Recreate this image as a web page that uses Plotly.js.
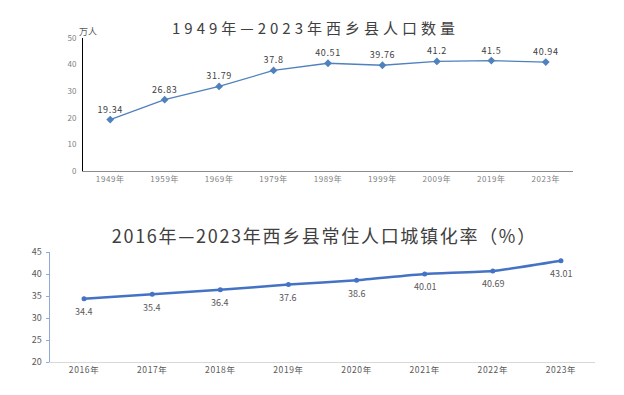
<!DOCTYPE html>
<html>
<head>
<meta charset="utf-8">
<script src="https://cdn.plot.ly/plotly-3.0.1.min.js"></script>
<style>
body{margin:0;padding:0;background:#fff;}
#chart{width:624px;height:395px;}
.xtick text, .x2tick text, .textpoint text{letter-spacing:0.6px;}
</style>
</head>
<body>
<div id="chart"></div>
<script>
// Chart 1: population (万人)
const popYears = ['1949年','1959年','1969年','1979年','1989年','1999年','2009年','2019年','2023年'];
const popValues = [19.34, 26.83, 31.79, 37.8, 40.51, 39.76, 41.2, 41.5, 40.94];
const popLabels = ['19.34','26.83','31.79','37.8','40.51','39.76','41.2','41.5','40.94'];

// Chart 2: urbanization rate (%)
const urbYears = ['2016年','2017年','2018年','2019年','2020年','2021年','2022年','2023年'];
const urbValues = [34.4, 35.4, 36.4, 37.6, 38.6, 40.01, 40.69, 43.01];
const urbLabels = ['34.4','35.4','36.4','37.6','38.6','40.01','40.69','43.01'];

const title1 = '1949年—2023年西乡县人口数量';
const title2 = '2016年—2023年西乡县常住人口城镇化率（%）';
const unit1 = '万人';

const FONT = '"Noto Sans CJK SC", "Noto Sans", sans-serif';
const W = 624, H = 395;
const px = x => x / W;
const py = y => (H - y) / H;

const traces = [
  {
    x: popYears, y: popValues, text: popLabels,
    type: 'scatter', mode: 'lines+markers+text',
    textposition: 'top center',
    textfont: {family: FONT, size: 9, color: '#404040'},
    line: {color: '#4f81bd', width: 1.3},
    marker: {symbol: 'diamond', size: 6, color: '#4f81bd'},
    xaxis: 'x', yaxis: 'y', cliponaxis: false, hoverinfo: 'none'
  },
  {
    x: urbYears, y: urbValues,
    type: 'scatter', mode: 'lines+markers',
    line: {color: '#4472c4', width: 2.5, shape: 'spline', smoothing: 0.5},
    marker: {symbol: 'circle', size: 5, color: '#4472c4'},
    xaxis: 'x2', yaxis: 'y2', cliponaxis: false, hoverinfo: 'none'
  }
];

const urbAnnotations = urbYears.map((yr, i) => ({
  text: urbLabels[i], x: yr, y: urbValues[i], xref: 'x2', yref: 'y2',
  xanchor: 'center', yanchor: 'middle', yshift: -13, showarrow: false,
  font: {family: FONT, size: 9, color: '#595959'}
}));

const layout = {
  width: W, height: H,
  margin: {l: 0, r: 0, t: 0, b: 0},
  paper_bgcolor: '#ffffff', plot_bgcolor: '#ffffff',
  showlegend: false,
  font: {family: FONT},
  xaxis: {
    domain: [px(83), px(573)], anchor: 'y',
    type: 'category', range: [-0.5, 8.5],
    showline: true, linecolor: '#8c8c8c', linewidth: 1,
    showgrid: false, zeroline: false, ticks: '',
    tickfont: {family: FONT, size: 8, color: '#7f7f7f'}
  },
  yaxis: {
    domain: [py(171), py(38)], anchor: 'x',
    range: [0, 50], dtick: 10,
    showline: true, linecolor: '#000000', linewidth: 1,
    showgrid: false, zeroline: false, ticks: '',
    ticklabelstandoff: 4,
    tickfont: {family: FONT, size: 8, color: '#7f7f7f'}
  },
  xaxis2: {
    domain: [px(50), px(595)], anchor: 'y2',
    type: 'category', range: [-0.5, 7.5],
    showline: true, linecolor: '#d9d9d9', linewidth: 1,
    showgrid: false, zeroline: false, ticks: '',
    tickfont: {family: FONT, size: 8.5, color: '#595959'}
  },
  yaxis2: {
    domain: [py(362), py(252)], anchor: 'x2',
    range: [20, 45], dtick: 5,
    showline: true, linecolor: '#8eaadb', linewidth: 1.5,
    showgrid: false, zeroline: false,
    ticks: 'outside', ticklen: 3, tickcolor: '#8eaadb', tickwidth: 1,
    ticklabelstandoff: 2,
    tickfont: {family: FONT, size: 9, color: '#595959'}
  },
  annotations: [
    {text: title1, xref: 'paper', yref: 'paper',
     x: px(315), y: py(27), xanchor: 'center', yanchor: 'middle', showarrow: false,
     font: {family: FONT, size: 15, color: '#404040'}},
    {text: title2, xref: 'paper', yref: 'paper',
     x: px(324), y: py(235), xanchor: 'center', yanchor: 'middle', showarrow: false,
     font: {family: FONT, size: 18, color: '#404040'}},
    {text: unit1, xref: 'paper', yref: 'paper',
     x: px(88), y: py(32), xanchor: 'center', yanchor: 'middle', showarrow: false,
     font: {family: FONT, size: 9, color: '#595959'}}
  ].concat(urbAnnotations)
};

Plotly.newPlot('chart', traces, layout, {staticPlot: true, displayModeBar: false}).then(() => {
  const ts = document.querySelectorAll('.annotation-text');
  if (ts[0]) ts[0].style.letterSpacing = '4px';
  if (ts[1]) ts[1].style.letterSpacing = '1.7px';
});
</script>
</body>
</html>
